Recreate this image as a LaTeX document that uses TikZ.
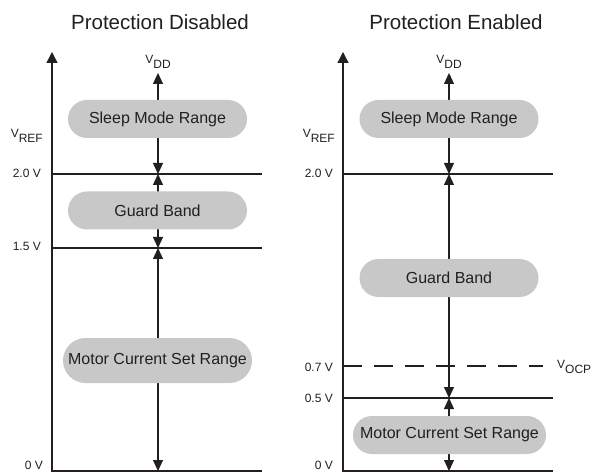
\documentclass[tikz,border=0pt]{standalone}
\usepackage{fontspec}
\setmainfont{Liberation Sans}
\usetikzlibrary{arrows.meta,shapes.misc}
\definecolor{pillgray}{HTML}{C8C8C8}
\definecolor{ink}{HTML}{231F20}
\begin{document}
\begin{tikzpicture}[x=1bp,y=-1bp,
  pill/.style={fill=pillgray, rounded rectangle, minimum height=38bp, inner sep=0pt, text=ink, font=\fontsize{16bp}{19bp}\selectfont},
  axisline/.style={line width=1.3bp, draw=ink, -{Triangle[length=11bp,width=11bp]}},
  level/.style={line width=1.8bp, draw=ink},
  rangearrow/.style={line width=1.1bp, draw=ink, {Triangle[length=11bp,width=10bp]}-{Triangle[length=11bp,width=10bp]}},
  lbl/.style={inner sep=0pt, text=ink, font=\fontsize{12bp}{14bp}\selectfont},
  ttl/.style={inner sep=0pt, text=ink, font=\fontsize{20.5bp}{24bp}\selectfont, anchor=base}
]
\useasboundingbox (0,0) rectangle (594,472);

% ---------------- Left panel ----------------
\node[ttl] (tL) at (160,30) {Protection Disabled};
\coordinate (LaxB) at (52,472);
\coordinate (LaxT) at (52,52);
\draw[axisline] (LaxB) -- (LaxT);

\coordinate (L20a) at (52,174);  \coordinate (L20b) at (262,174);
\coordinate (L15a) at (52,248);  \coordinate (L15b) at (262,248);
\coordinate (L0a)  at (52,471);  \coordinate (L0b)  at (262,471);
\draw[level] (L20a) -- (L20b);
\draw[level] (L15a) -- (L15b);
\draw[level] (L0a) -- (L0b);

\coordinate (Lvdd) at (158,73);
\coordinate (L20) at (158,174);
\coordinate (L15) at (158,248);
\coordinate (L0) at (158,471);
\draw[rangearrow] (L20) -- (Lvdd);
\draw[rangearrow] (L20) -- (L15);
\draw[rangearrow] (L15) -- (L0);

\node[lbl, anchor=base] (vddL) at (158,64) {V\raisebox{-5bp}{DD}};
\node[lbl, anchor=base east] (vrefL) at (43,138) {V\raisebox{-5bp}{REF}};
\node[lbl, anchor=east] (l20L) at (41,173) {2.0 V};
\node[lbl, anchor=east] (l15L) at (41,246) {1.5 V};
\node[lbl, anchor=east] (l0L) at (43,465) {0 V};

\node[pill, minimum width=179bp] (sleepL) at (157.5,119) {Sleep Mode Range};
\node[pill, minimum width=179bp] (guardL) at (157.5,210.5) {Guard Band};
\node[pill, minimum width=189bp, minimum height=45bp] (motorL) at (157.5,360.5) {Motor Current Set Range};

% ---------------- Right panel ----------------
\node[ttl] (tR) at (456,30) {Protection Enabled};
\coordinate (RaxB) at (343,472);
\coordinate (RaxT) at (343,52);
\draw[axisline] (RaxB) -- (RaxT);

\coordinate (R20a) at (343,174);  \coordinate (R20b) at (553,174);
\coordinate (R07a) at (343,366);  \coordinate (R07b) at (543,366);
\coordinate (R05a) at (343,398);  \coordinate (R05b) at (553,398);
\coordinate (R0a)  at (343,471);  \coordinate (R0b)  at (553,471);
\draw[level] (R20a) -- (R20b);
\draw[level, line width=2.3bp, dash pattern=on 19bp off 12bp] (R07a) -- (R07b);
\draw[level] (R05a) -- (R05b);
\draw[level] (R0a) -- (R0b);

\coordinate (Rvdd) at (449,73);
\coordinate (R20) at (449,174);
\coordinate (R05) at (449,398);
\coordinate (R0) at (449,471);
\draw[rangearrow] (R20) -- (Rvdd);
\draw[rangearrow] (R20) -- (R05);
\draw[rangearrow] (R05) -- (R0);

\node[lbl, anchor=base] (vddR) at (449,64) {V\raisebox{-5bp}{DD}};
\node[lbl, anchor=base east] (vrefR) at (335,138) {V\raisebox{-5bp}{REF}};
\node[lbl, anchor=east] (l20R) at (333,173) {2.0 V};
\node[lbl, anchor=east] (l07R) at (333,367) {0.7 V};
\node[lbl, anchor=east] (l05R) at (333,398) {0.5 V};
\node[lbl, anchor=east] (l0R) at (333,465) {0 V};
\node[lbl, anchor=base west] (vocp) at (557,368) {V\raisebox{-5bp}{OCP}};

\node[pill, minimum width=179bp] (sleepR) at (449,119) {Sleep Mode Range};
\node[pill, minimum width=179bp] (guardR) at (449,278) {Guard Band};
\node[pill, minimum width=193bp] (motorR) at (449.5,435) {Motor Current Set Range};
\end{tikzpicture}
\end{document}
